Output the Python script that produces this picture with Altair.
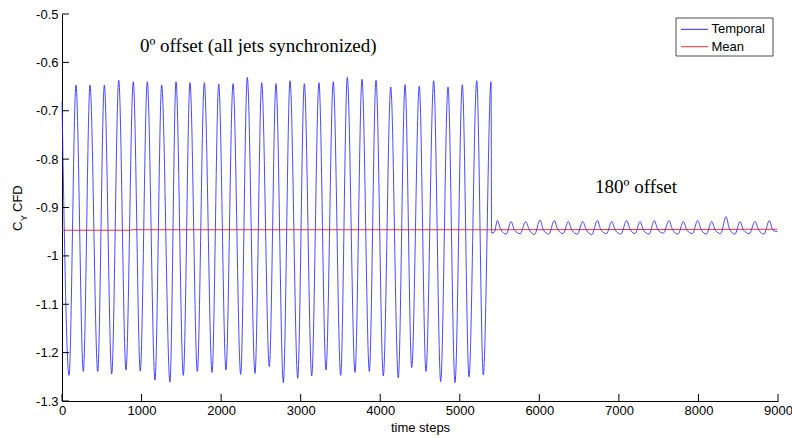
import altair as alt
import pandas as pd

# ---------------- data ----------------
# Phase 1 (0 deg offset): peaks and troughs of the temporal C_Y signal
p1_start_t = [0]
p1_start_v = [-0.680]
p1_trough_t = [88, 268, 449, 625, 804, 984, 1169, 1357, 1525, 1701, 1886, 2061,
               2246, 2426, 2606, 2782, 2963, 3139, 3318, 3503, 3683, 3863, 4039,
               4227, 4396, 4575, 4760, 4940, 5116, 5296]
p1_trough_v = [-1.247, -1.239, -1.239, -1.244, -1.236, -1.238, -1.257, -1.261,
               -1.247, -1.239, -1.241, -1.236, -1.245, -1.243, -1.229, -1.262,
               -1.253, -1.248, -1.236, -1.247, -1.241, -1.239, -1.248, -1.252,
               -1.231, -1.239, -1.260, -1.262, -1.250, -1.246]
p1_peak_t = [176, 352, 532, 713, 896, 1072, 1253, 1433, 1609, 1789, 1970, 2150,
             2329, 2510, 2690, 2866, 3046, 3230, 3410, 3586, 3771, 3947, 4132,
             4312, 4491, 4672, 4852, 5032, 5213, 5393]
p1_peak_v = [-0.647, -0.647, -0.647, -0.637, -0.640, -0.640, -0.647, -0.640,
             -0.642, -0.642, -0.645, -0.644, -0.631, -0.642, -0.644, -0.638,
             -0.644, -0.642, -0.640, -0.631, -0.635, -0.637, -0.651, -0.646,
             -0.649, -0.638, -0.651, -0.646, -0.638, -0.640]

# Phase 2 (180 deg offset): small oscillation
p2_edge_t = [5400, 5435, 8990]
p2_edge_v = [-0.953, -0.951, -0.950]
p2_peak_t = [5472, 5644, 5829, 6008, 6188, 6364, 6545, 6729, 6910, 7098, 7265,
             7445, 7630, 7810, 7990, 8167, 8346, 8522, 8711, 8891]
p2_peak_v = [-0.927, -0.929, -0.929, -0.926, -0.927, -0.929, -0.929, -0.927,
             -0.929, -0.927, -0.929, -0.927, -0.927, -0.929, -0.927, -0.929,
             -0.919, -0.929, -0.929, -0.927]
p2_shoulder_t = [5517, 5689, 5874, 6053, 6233, 6409, 6590, 6774, 6955, 7143,
                 7310, 7490, 7675, 7855, 8035, 8212, 8391, 8567, 8756, 8936]
p2_shoulder_v = [-0.946, -0.947, -0.946, -0.947, -0.946, -0.947, -0.946, -0.946,
                 -0.947, -0.946, -0.947, -0.946, -0.946, -0.947, -0.946, -0.947,
                 -0.945, -0.947, -0.946, -0.947]
p2_trough_t = [5585, 5760, 5940, 6120, 6300, 6480, 6660, 6845, 7025, 7205, 7380,
               7560, 7745, 7925, 8100, 8280, 8460, 8640, 8825]
p2_trough_v = [-0.955, -0.954, -0.956, -0.955, -0.954, -0.955, -0.956, -0.954,
               -0.955, -0.954, -0.955, -0.953, -0.955, -0.954, -0.955, -0.954,
               -0.955, -0.954, -0.955]

# running mean (red)
mean_t = [0, 860, 880, 5400, 8990]
mean_v = [-0.947, -0.947, -0.946, -0.946, -0.945]

x_ticks = [0, 1000, 2000, 3000, 4000, 5000, 6000, 7000, 8000, 9000]
y_ticks = [-1.3, -1.2, -1.1, -1.0, -0.9, -0.8, -0.7, -0.6, -0.5]

ann_text = ["0º offset (all jets synchronized)", "180º offset"]
ann_t = [980, 6700]
ann_v = [-0.579, -0.870]

legend_labels = ["Temporal", "Mean"]
legend_colors = ["#2a2aff", "#ff3030"]

# ---------------- tables ----------------
t_all = (p1_start_t + p1_trough_t + p1_peak_t + p2_edge_t + p2_peak_t
         + p2_shoulder_t + p2_trough_t)
v_all = (p1_start_v + p1_trough_v + p1_peak_v + p2_edge_v + p2_peak_v
         + p2_shoulder_v + p2_trough_v)
temporal = pd.DataFrame({"t": t_all, "v": v_all}).sort_values("t").reset_index(drop=True)
mean_df = pd.DataFrame({"t": mean_t, "v": mean_v})
ann_df = pd.DataFrame({"t": ann_t, "v": ann_v, "label": ann_text})
xt_df = pd.DataFrame({"t": x_ticks})
yt_df = pd.DataFrame({"v": y_ticks})
one = pd.DataFrame({"k": [0]})

W, H = 716, 387
SANS = "Liberation Sans"
SERIF = "Liberation Serif"

X = alt.X("t:Q",
          scale=alt.Scale(domain=[0, 9000], nice=False, zero=False),
          axis=alt.Axis(values=x_ticks, format="d", ticks=False, grid=False,
                        labelFlush=False, labelPadding=3, labelFont=SANS,
                        labelFontSize=13, labelColor="black",
                        domainColor="black", domainWidth=1,
                        title="time steps", titleFont=SANS, titleFontSize=13,
                        titleFontWeight="normal", titleColor="black",
                        titlePadding=4))
Y = alt.Y("v:Q",
          scale=alt.Scale(domain=[-1.3, -0.5], nice=False, zero=False),
          axis=alt.Axis(values=y_ticks, labelExpr="'' + datum.value",
                        ticks=False, grid=False, labelPadding=4, labelFont=SANS,
                        labelFontSize=13, labelColor="black",
                        domainColor="black", domainWidth=1, title=None))

blue = alt.Chart(temporal).mark_line(color=legend_colors[0], strokeWidth=1,
                                     strokeOpacity=0.85,
                                     interpolate="monotone").encode(x=X, y=Y)
red = alt.Chart(mean_df).mark_line(color=legend_colors[1], strokeWidth=1).encode(x=X, y=Y)

ann = alt.Chart(ann_df).mark_text(font=SERIF, fontSize=19, align="left",
                                  baseline="alphabetic", color="black").encode(
    x=X, y=Y, text="label:N")

xt = alt.Chart(xt_df).mark_rule(color="black", strokeWidth=1).encode(
    x=X, y=alt.value(H), y2=alt.value(H - 7))
yt = alt.Chart(yt_df).mark_rule(color="black", strokeWidth=1).encode(
    y=Y, x=alt.value(0), x2=alt.value(7))

# y-axis title "C_Y CFD" with subscript
yc = alt.Chart(one).mark_text(text="C", font=SANS, fontSize=13, angle=270,
                              align="left", baseline="middle", color="black").encode(
    x=alt.value(-44), y=alt.value(217))
ysub = alt.Chart(one).mark_text(text="Y", font=SANS, fontSize=9, angle=270,
                                align="left", baseline="middle", color="black").encode(
    x=alt.value(-38), y=alt.value(207))
ycfd = alt.Chart(one).mark_text(text="CFD", font=SANS, fontSize=13, angle=270,
                                align="left", baseline="middle", color="black").encode(
    x=alt.value(-44), y=alt.value(198))

# legend box
leg_box = alt.Chart(one).mark_rect(fill="white", stroke="#222222", strokeWidth=0.8).encode(
    x=alt.value(614), x2=alt.value(711), y=alt.value(4), y2=alt.value(42))
leg_l1 = alt.Chart(one).mark_rule(color=legend_colors[0], strokeWidth=1).encode(
    x=alt.value(619), x2=alt.value(646), y=alt.value(15.3))
leg_l2 = alt.Chart(one).mark_rule(color=legend_colors[1], strokeWidth=1).encode(
    x=alt.value(619), x2=alt.value(646), y=alt.value(32.7))
leg_t1 = alt.Chart(one).mark_text(text=legend_labels[0], font=SANS, fontSize=13,
                                  align="left", baseline="middle", color="black").encode(
    x=alt.value(649.5), y=alt.value(15.3))
leg_t2 = alt.Chart(one).mark_text(text=legend_labels[1], font=SANS, fontSize=13,
                                  align="left", baseline="middle", color="black").encode(
    x=alt.value(649.5), y=alt.value(32.7))

chart = alt.layer(red, blue, ann, xt, yt, yc, ysub, ycfd,
                  leg_box, leg_l1, leg_l2, leg_t1, leg_t2).properties(
    width=W, height=H,
    autosize=alt.AutoSizeParams(type="none"),
    padding={"left": 62, "top": 14, "right": 14, "bottom": 37},
    background="white",
).configure_view(stroke=None)

chart.save("out.html", embed_options={"renderer": "svg", "actions": False})
